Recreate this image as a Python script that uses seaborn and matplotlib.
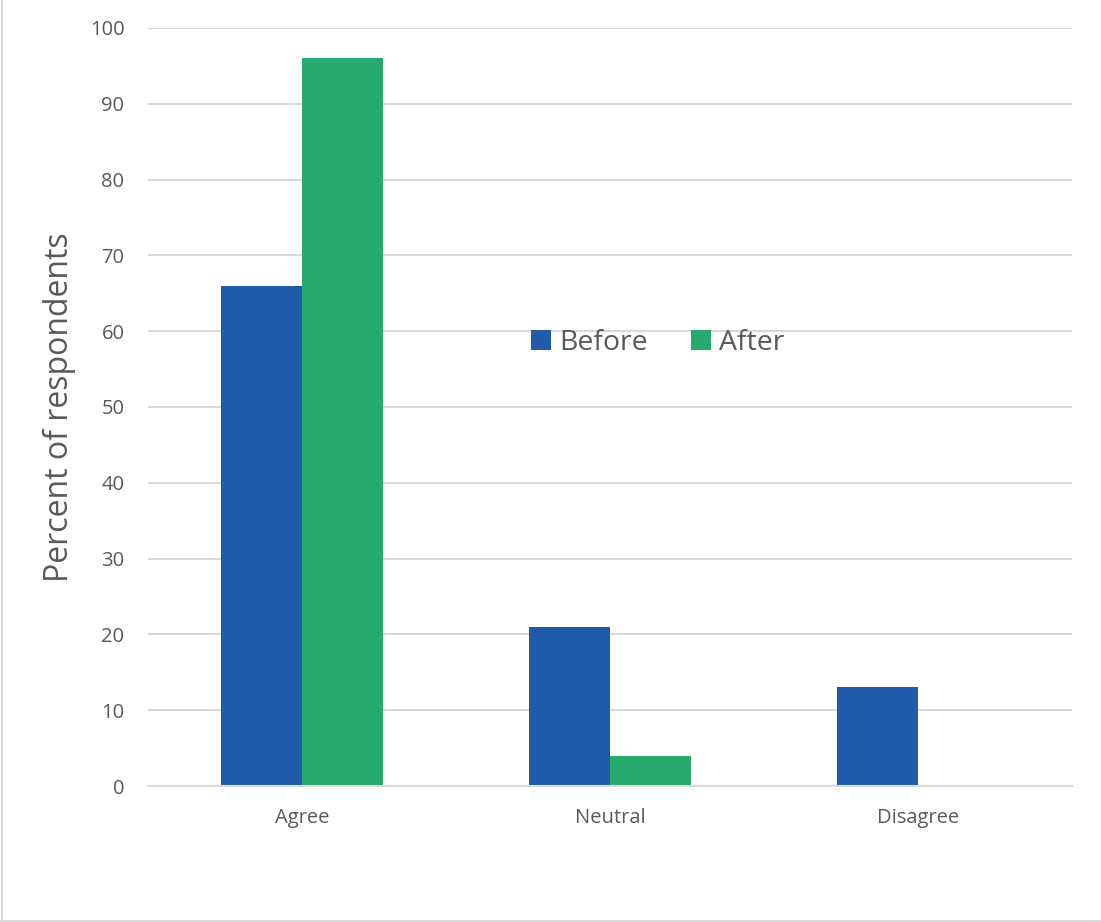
import pandas as pd
import matplotlib.pyplot as plt
import seaborn as sns
from matplotlib.lines import Line2D

categories = ["Agree", "Neutral", "Disagree"]
before = [66, 21, 13]
after = [96, 4, 0]
series = ["Before", "After"]

data = pd.DataFrame({
    "response": categories * 2,
    "percent": before + after,
    "when": ["Before"] * 3 + ["After"] * 3,
})

sns.set_style("white")
plt.rcParams['font.family'] = ['Open Sans', 'DejaVu Sans']
text_gray = "#595959"
grid_gray = "#d9d9d9"

fig = plt.figure(figsize=(11.01, 9.22), dpi=100)
ax = fig.add_axes([148 / 1101, 1 - 786 / 922, 924 / 1101, 758 / 922])

colors = {"Before": "#215AA8", "After": "#27AA6E"}
sns.barplot(data=data, x="response", y="percent", hue="when", hue_order=series,
            order=categories, palette=colors, width=0.523, saturation=1,
            linewidth=0, ax=ax)

ax.set_ylim(0, 100)
ax.set_xlim(-0.5, 2.5)
ax.set_yticks(range(0, 101, 10))
ax.yaxis.grid(True, color=grid_gray, linewidth=1.5)
ax.set_axisbelow(True)
for s in ["top", "right", "left"]:
    ax.spines[s].set_visible(False)
ax.spines["bottom"].set_color(grid_gray)
ax.spines["bottom"].set_linewidth(1.5)
ax.tick_params(axis="both", length=0, labelsize=14.5, colors=text_gray)
ax.tick_params(axis="y", pad=17)
ax.tick_params(axis="x", pad=16)
ax.set_xlabel("")
ax.set_ylabel("Percent of respondents", fontsize=23, color=text_gray, labelpad=10)

handles, labels = ax.get_legend_handles_labels()
ax.legend(handles, labels, loc="center", bbox_to_anchor=(0.552, 0.584), ncol=2,
          frameon=False, fontsize=20.5, handlelength=0.7, handleheight=0.7,
          handletextpad=0.3, columnspacing=1.5, labelcolor=text_gray)

# outer chart border (left and bottom visible)
fig.add_artist(Line2D([1.5 / 1101, 1.5 / 1101], [0, 1], color="#d9d9d9", linewidth=1.5))
fig.add_artist(Line2D([0, 1], [1.5 / 922, 1.5 / 922], color="#d9d9d9", linewidth=1.5))

fig.savefig("out.png", dpi=100)
